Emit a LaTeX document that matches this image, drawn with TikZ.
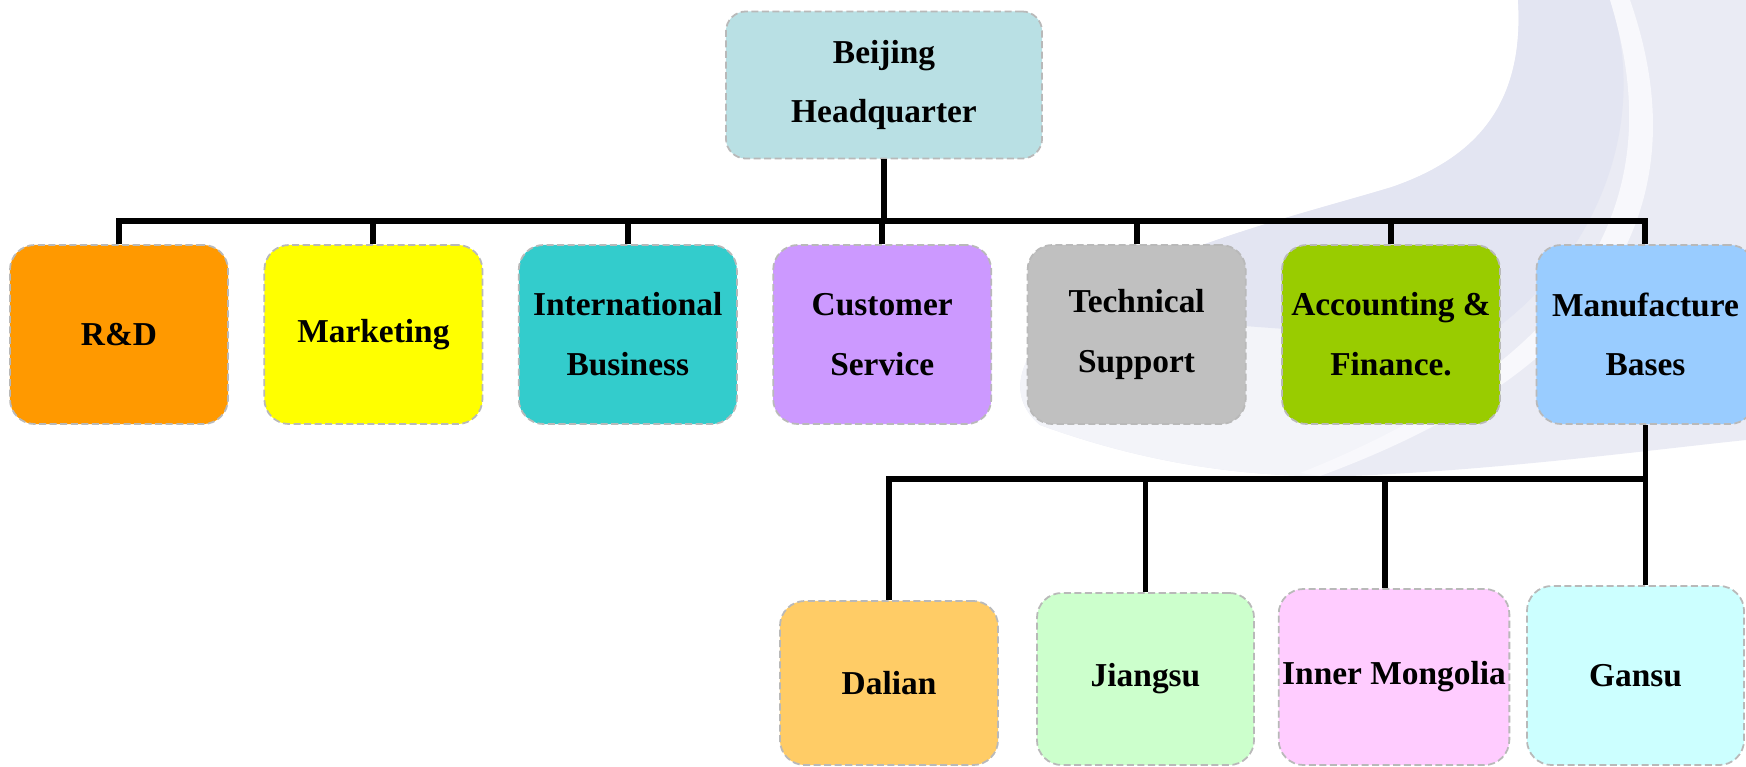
\documentclass[tikz,border=0pt]{standalone}
\usepackage{fontspec}
\setmainfont{Liberation Serif}
\usepackage{xcolor}
\usepackage{tikz}
\usetikzlibrary{positioning}
\definecolor{hqcol}{RGB}{185,224,228}
\definecolor{rdcol}{RGB}{255,153,0}
\definecolor{mkcol}{RGB}{255,255,0}
\definecolor{ibcol}{RGB}{51,204,204}
\definecolor{cscol}{RGB}{204,153,255}
\definecolor{tscol}{RGB}{192,192,192}
\definecolor{afcol}{RGB}{153,204,0}
\definecolor{mbcol}{RGB}{153,204,255}
\definecolor{dlcol}{RGB}{255,204,102}
\definecolor{jscol}{RGB}{204,255,204}
\definecolor{imcol}{RGB}{255,204,255}
\definecolor{gscol}{RGB}{204,255,255}
\definecolor{swgray}{RGB}{234,235,244}
\definecolor{swlav}{RGB}{227,229,242}
\definecolor{swtail}{RGB}{243,244,249}
\definecolor{swwhite}{RGB}{248,248,252}
\tikzset{unit node/.style={rectangle,rounded corners=0.25cm,draw=gray!55,dash pattern=on 2pt off 1pt,line width=0.5pt,minimum width=2.18cm,minimum height=1.79cm,inner sep=1pt,align=center,font=\bfseries\fontsize{9.5}{17}\selectfont},
link/.style={draw,line width=1.7pt},}

\begin{document}
\begin{tikzpicture}[x=0.01cm,y=-0.01cm]
    \useasboundingbox (0,0) rectangle (1746,767);

    % background swoosh
    \begin{scope}
    \clip (0,0) rectangle (1746,767);
    \fill[swgray] (1518,0) .. controls (1525,110) and (1470,160) .. (1392,187)
        .. controls (1310,212) and (1150,250) .. (1070,310)
        .. controls (1010,360) and (1010,400) .. (1040,425)
        .. controls (1150,465) and (1250,478) .. (1350,476)
        .. controls (1500,470) and (1650,450) .. (1746,440) -- (1746,0) -- cycle;
    \fill[swtail] (1070,310) .. controls (1010,360) and (1010,400) .. (1040,425)
        .. controls (1150,465) and (1250,478) .. (1350,476)
        -- (1320,476) .. controls (1400,440) and (1450,400) .. (1480,340)
        .. controls (1300,330) and (1150,320) .. (1070,310) -- cycle;
    \fill[swlav] (1518,0) .. controls (1525,110) and (1470,160) .. (1392,187)
        .. controls (1310,212) and (1150,250) .. (1070,310)
        .. controls (1150,320) and (1350,335) .. (1480,340)
        .. controls (1600,260) and (1650,120) .. (1610,0) -- cycle;
    \fill[swwhite] (1610,0) .. controls (1650,130) and (1660,330) .. (1300,473)
        -- (1320,476) .. controls (1690,340) and (1675,130) .. (1630,0) -- cycle;
    \end{scope}

    % head office
    \node[unit node,fill=hqcol,minimum width=3.16cm,minimum height=1.47cm,rounded corners=0.2cm] (hq) at (884,85) {Beijing\\Headquarter};

    % departments
    \node[unit node,fill=rdcol] (rd) at (119,334.5) {R\&D};
    \node[unit node,fill=mkcol] (mk) [right = 0.345cm of rd] {Marketing};
    \node[unit node,fill=ibcol] (ib) [right = 0.345cm of mk] {International\\Business};
    \node[unit node,fill=cscol] (cs) [right = 0.345cm of ib] {Customer\\Service};
    \node[unit node,fill=tscol] (ts) [right = 0.345cm of cs] {Technical\\Support};
    \node[unit node,fill=afcol] (af) [right = 0.345cm of ts] {Accounting \&\\Finance.};
    \node[unit node,fill=mbcol] (mb) [right = 0.345cm of af] {Manufacture\\Bases};

    % bases
    \node[unit node,fill=dlcol,minimum height=1.64cm] (dl) at (889,683) {Dalian};
    \node[unit node,fill=jscol,minimum width=2.17cm,minimum height=1.72cm] (js) at (1145.5,679) {Jiangsu};
    \node[unit node,fill=imcol,minimum height=1.76cm] (im) at (1394,677) {Inner Mongolia};
    \node[unit node,fill=gscol,minimum width=2.17cm,minimum height=1.79cm] (gs) at (1635.5,675.5) {Gansu};

    \coordinate (bus) at (hq.south |- 0,221);
    \coordinate (lowbus) at (mb.south |- 0,479);

    \path[link]
    (hq.south) -- (bus)
    (rd.north) |- (mb.north |- bus) -- (mb.north)
    ;
    \foreach \n in {mk,ib,cs,ts,af}
        \draw[link] (\n.north) -- (\n.north |- bus);

    \path[draw,line width=1.5pt]
    (mb.south) -- (mb.south |- gs.north)
    (dl.north) |- (lowbus)
    (js.north) -- (js.north |- lowbus)
    ([xshift=-0.09cm]im.north) -- ([xshift=-0.09cm]im.north |- lowbus)
    ;
\end{tikzpicture}
\end{document}
